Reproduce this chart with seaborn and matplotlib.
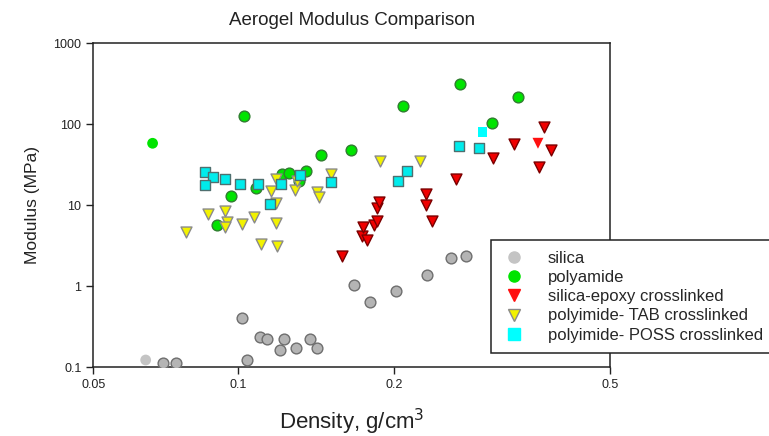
import numpy as np
import pandas as pd
import matplotlib
matplotlib.use("Agg")
import matplotlib.pyplot as plt
from matplotlib.lines import Line2D
import seaborn as sns

# ------------------------------------------------------
# DATA
# ------------------------------------------------------

silica_density = [0.0648, 0.0705, 0.0749, 0.1019, 0.1040, 0.1105, 0.1142, 0.1234, 0.1212,
                  0.1298, 0.1382, 0.1425, 0.1676, 0.1801, 0.2017, 0.2302, 0.2557, 0.2720]
silica_modulus = [0.123, 0.112, 0.112, 0.41, 0.123, 0.239, 0.224, 0.225, 0.162,
                  0.172, 0.225, 0.172, 1.04, 0.64, 0.88, 1.38, 2.24, 2.39]

polyamide_density = [0.0670, 0.1027, 0.0907, 0.0968, 0.1083, 0.1223, 0.1260, 0.1359,
                     0.1319, 0.1455, 0.1660, 0.2079, 0.2652, 0.3043, 0.3397]
polyamide_modulus = [58.3, 126.6, 5.71, 12.95, 16.2, 24.6, 25.1, 26.5,
                     19.9, 41.4, 48.2, 169.6, 314.5, 102.9, 215.4]

epoxy_density = [0.1590, 0.1740, 0.1781, 0.1747, 0.1833, 0.1860, 0.1857, 0.1871, 0.2299,
                 0.2299, 0.2355, 0.2610, 0.3055, 0.3340, 0.3695, 0.3790, 0.3910, 0.3711]
epoxy_modulus = [2.37, 4.18, 3.73, 5.44, 5.71, 6.35, 9.18, 11.1, 13.8,
                 10.2, 6.40, 20.9, 38.0, 57.1, 58.3, 93.4, 48.2, 29.5]

tab_density = [0.0784, 0.0872, 0.0940, 0.0949, 0.0942, 0.1019, 0.1077, 0.1112, 0.1187, 0.1164,
               0.1190, 0.1187, 0.1196, 0.1295, 0.1306, 0.1424, 0.1440, 0.1521, 0.1879, 0.2234]
tab_modulus = [4.64, 7.81, 8.43, 6.27, 5.32, 5.88, 7.23, 3.30, 20.9, 15.0,
               10.6, 6.10, 3.12, 15.3, 20.1, 14.7, 12.8, 24.1, 35.5, 35.5]

poss_density = [0.0860, 0.0892, 0.0860, 0.0940, 0.1010, 0.1095, 0.1157, 0.1216,
                0.1322, 0.1519, 0.2034, 0.2115, 0.2644, 0.2875, 0.2921]
poss_modulus = [25.6, 22.4, 18.0, 21.3, 18.2, 18.4, 10.5, 18.5,
                23.7, 19.4, 20.1, 26.7, 54.4, 51.4, 79.7]

# points drawn without a marker outline in the reference
plain_points = {"silica": [0], "polyamide": [0], "silica-epoxy crosslinked": [14],
                "polyimide- POSS crosslinked": [14]}

labels = ["silica", "polyamide", "silica-epoxy crosslinked",
          "polyimide- TAB crosslinked", "polyimide- POSS crosslinked"]
x_ticks = [0.05, 0.1, 0.2, 0.5]
y_ticks = [0.1, 1, 10, 100, 1000]

series = {
    "silica": (silica_density, silica_modulus),
    "polyamide": (polyamide_density, polyamide_modulus),
    "silica-epoxy crosslinked": (epoxy_density, epoxy_modulus),
    "polyimide- TAB crosslinked": (tab_density, tab_modulus),
    "polyimide- POSS crosslinked": (poss_density, poss_modulus),
}

rows = []
for name, (xs, ys) in series.items():
    for i, (xv, yv) in enumerate(zip(xs, ys)):
        rows.append({"material": name, "density": xv, "modulus": yv,
                     "outlined": i not in plain_points.get(name, [])})
df = pd.DataFrame(rows)

# ------------------------------------------------------
# STYLE
# ------------------------------------------------------

STYLE = {
    "silica": dict(marker="o", face="#b4b4b4", edge="#6e6e6e", plain="#c4c4c4", s=60),
    "polyamide": dict(marker="o", face="#00e400", edge="#2f7d2f", plain="#00e400", s=60),
    "silica-epoxy crosslinked": dict(marker="v", face="#f00000", edge="#7a0000", plain="#ff1010", s=62),
    "polyimide- TAB crosslinked": dict(marker="v", face="#f2f200", edge="#8a8a8a", plain="#f2f200", s=62),
    "polyimide- POSS crosslinked": dict(marker="s", face="#00ecec", edge="#4f6f6f", plain="#00ffff", s=50),
}

sns.set_style("ticks")
plt.rcParams["font.family"] = ["Liberation Sans", "DejaVu Sans"]

fig, ax = plt.subplots(figsize=(7.69, 4.36), dpi=100)
fig.subplots_adjust(left=0.1213, right=0.7932, top=0.9007, bottom=0.1576)

for name in labels:
    st = STYLE[name]
    sub = df[(df["material"] == name) & df["outlined"]]
    sns.scatterplot(data=sub, x="density", y="modulus", ax=ax, marker=st["marker"],
                    color=st["face"], edgecolor=st["edge"], linewidth=1.0,
                    s=st["s"], legend=False, zorder=3)
    sub = df[(df["material"] == name) & ~df["outlined"]]
    if len(sub):
        sns.scatterplot(data=sub, x="density", y="modulus", ax=ax, marker=st["marker"],
                        color=st["plain"], edgecolor="none", linewidth=0,
                        s=st["s"], legend=False, zorder=3)

# density axis of the reference is slightly compressed at the low end
ax.set_xscale("function", functions=(lambda v: np.log10(np.asarray(v) + 0.012),
                                     lambda v: 10 ** np.asarray(v) - 0.012))
ax.set_yscale("log")
ax.set_xlim(0.05, 0.5)
ax.set_ylim(0.1, 1000)
ax.set_xticks(x_ticks)
ax.set_xticklabels([f"{t:g}" for t in x_ticks])
ax.set_yticks(y_ticks)
ax.set_yticklabels([f"{t:g}" for t in y_ticks])
ax.minorticks_off()
ax.tick_params(direction="out", length=5, width=1, labelsize=9, colors="#222222")

for sp in ax.spines.values():
    sp.set_visible(True)
    sp.set_linewidth(1.1)
    sp.set_color("#222222")

ax.set_title("Aerogel Modulus Comparison", fontsize=13.5, pad=13, color="#222222")
ax.set_xlabel("Density, g/cm$^3$", fontsize=16, labelpad=11, color="#222222")
ax.set_ylabel("Modulus (MPa)", fontsize=12.5, labelpad=10, color="#222222")

handles = []
for name in labels:
    st = STYLE[name]
    edge = st["edge"] if name == "polyimide- TAB crosslinked" else st["plain"]
    handles.append(Line2D([], [], linestyle="none", marker=st["marker"], markersize=8,
                          markerfacecolor=st["plain"], markeredgecolor=edge))

leg = fig.legend(handles, labels, loc="upper left", bbox_to_anchor=(491 / 769, 1 - 240 / 436),
                 fontsize=12, frameon=True, fancybox=False, framealpha=1,
                 edgecolor="#222222", labelspacing=0.25, handletextpad=1.25,
                 borderpad=0.65, borderaxespad=0, handlelength=1.5)
leg.get_frame().set_linewidth(1.1)

fig.savefig("out.png", dpi=100)
